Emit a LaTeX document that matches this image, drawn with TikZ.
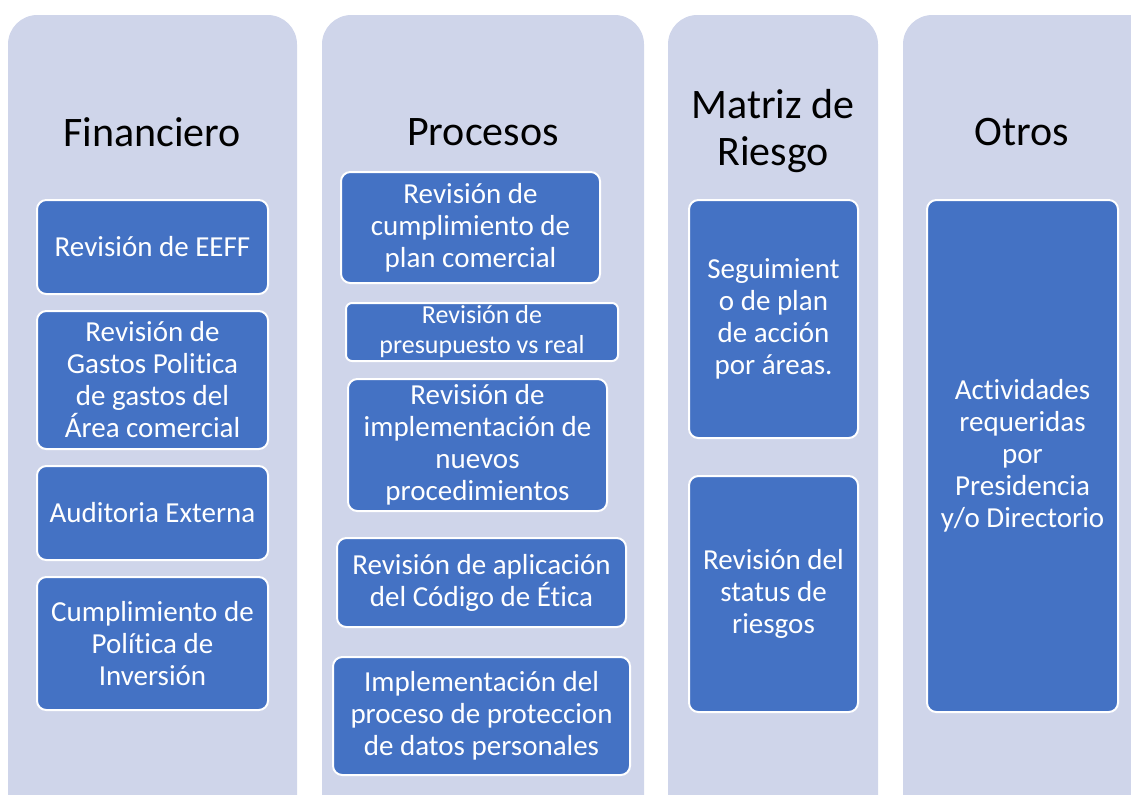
\documentclass[tikz,border=0pt]{standalone}
\usepackage{fontspec}
\setmainfont[Ligatures=NoCommon,RawFeature={-calt;-dlig}]{Carlito}
\definecolor{colbg}{HTML}{CFD5EA}
\definecolor{boxblue}{HTML}{4472C4}
\begin{document}
\begin{tikzpicture}[x=0.75pt,y=-0.75pt,
 column/.style={fill=colbg, rounded corners=22pt},
 item/.style={draw=white, line width=1.5pt, fill=boxblue, rounded corners=7pt, text=white, align=center, inner sep=0pt, font=\fontsize{21.75pt}{24pt}\selectfont},
 title/.style={align=center, inner sep=0pt, font=\fontsize{31.5pt}{35pt}\selectfont}]
\useasboundingbox (0,0) rectangle (1131,794);
\clip (0,0) rectangle (1131,794);
% columns
\fill[column] (8,15) rectangle (297,850);
\fill[column] (322,15) rectangle (644,850);
\fill[column] (668,15) rectangle (878,850);
\fill[column] (903,15) rectangle (1180,850);
% titles
\node[title] (t1) at (152,132) {Financiero};
\node[title] (t2) at (483,132) {Procesos};
\node[title] (t3) at (773,131) {Matriz de\\Riesgo};
\node[title] (t4) at (1022,132) {Otros};
% column 1
\node[item, minimum width=173.25pt, minimum height=70.5pt] (b11) at (152.5,247) {Revisión de EEFF};
\node[item, minimum width=173.25pt, minimum height=103.5pt] (b12) at (152.5,380) {Revisión de\\Gastos Politica\\de gastos del\\Área comercial};
\node[item, minimum width=173.25pt, minimum height=70.5pt] (b13) at (152.5,513) {Auditoria Externa};
\node[item, minimum width=173.25pt, minimum height=99.75pt] (b14) at (152.5,643.5) {Cumplimiento de\\Política de\\Inversión};
% column 2
\node[item, minimum width=194.25pt, minimum height=83.25pt] (b21) at (470.5,227.5) {Revisión de\\cumplimiento de\\plan comercial};
\node[item, minimum width=204pt, minimum height=43.5pt, rounded corners=4.5pt, font=\fontsize{19.5pt}{22.5pt}\selectfont] (b22) at (482,332) {Revisión de\\presupuesto vs real};
\node[item, minimum width=194.25pt, minimum height=99pt] (b23) at (477.5,445) {Revisión de\\implementación de\\nuevos\\procedimientos};
\node[item, minimum width=216.75pt, minimum height=66.75pt] (b24) at (481.5,582.5) {Revisión de aplicación\\del Código de Ética};
\node[item, minimum width=222.75pt, minimum height=88.5pt] (b25) at (481.5,716) {Implementación del\\proceso de proteccion\\de datos personales};
% column 3
\node[item, minimum width=126.75pt, minimum height=178.5pt] (b31) at (773.5,319) {Seguimient\\o de plan\\de acción\\por áreas.};
\node[item, minimum width=126.75pt, minimum height=177pt] (b32) at (773.5,594) {Revisión del\\status de\\riesgos};
% column 4
\node[item, minimum width=143.25pt, minimum height=384pt] (b41) at (1022.5,456) {Actividades\\requeridas\\por\\Presidencia\\y/o Directorio};
\end{tikzpicture}
\end{document}
